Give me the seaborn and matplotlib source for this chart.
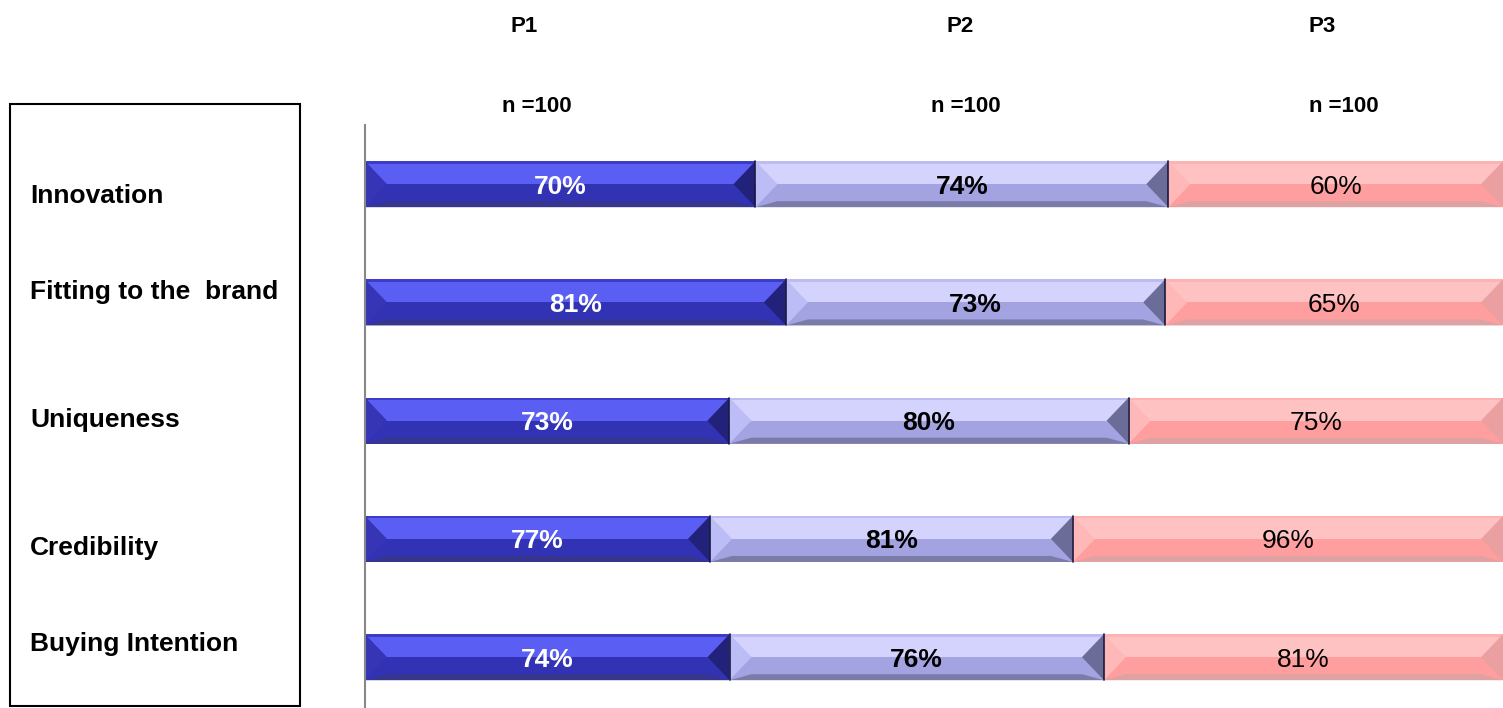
import numpy as np
import pandas as pd
import seaborn as sns
import matplotlib.pyplot as plt
from matplotlib.patches import Rectangle

categories = ["Innovation", "Fitting to the  brand", "Uniqueness", "Credibility", "Buying Intention"]
p1 = [70, 81, 73, 77, 74]
p2 = [74, 73, 80, 81, 76]
p3 = [60, 65, 75, 96, 81]
series_names = ["P1", "P2", "P3"]
sample_sizes = ["n =100", "n =100", "n =100"]

# colours per series: base, highlight, top edge, bottom edge, left facet, right facet
styles = {
    "P1": ("#3232b4", "#5b5ef2", "#3c3cc8", "#36368f", "#3535b5", "#22227a"),
    "P2": ("#a3a3e2", "#d3d3fd", "#bcbcf2", "#7b7ba8", "#bcbcf6", "#6c6c98"),
    "P3": ("#ff9e9e", "#ffc2c2", "#ffb2b2", "#dea2a2", "#ffb8b8", "#eaa0a0"),
}
text_styles = {"P1": ("white", "bold"), "P2": ("black", "bold"), "P3": ("black", "normal")}

sns.set_theme(style="white")
plt.rcParams["font.family"] = ["Liberation Sans", "DejaVu Sans"]
plt.rcParams["text.color"] = "black"

df = pd.DataFrame({"category": categories, "P1": p1, "P2": p2, "P3": p3})
total = df[series_names].sum(axis=1)
share = df[series_names].div(total, axis=0) * 100
cum = share.cumsum(axis=1)

fig = plt.figure(figsize=(15.03, 7.08), dpi=100)
ax = fig.add_axes([365 / 1503, 0, 1138 / 1503, 583 / 708])

bar_h = 0.39
# stacked bars: draw cumulative totals from the widest down
for name in reversed(series_names):
    sns.barplot(x=cum[name], y=df["category"], orient="h", color=styles[name][0],
                saturation=1, width=bar_h, ax=ax, errorbar=None, linewidth=0)

# bevel decoration on each segment
px_x = 100 / 1138
px_y = 1 / 118.25
w = 22 * px_x
hh = bar_h / 2
for i in range(len(categories)):
    left = 0
    for name in series_names:
        right = cum.loc[i, name]
        base, light, top_c, bot_c, l_c, r_c = styles[name]
        yc = i
        ax.add_patch(Rectangle((left, yc - hh + 2 * px_y), right - left, hh - 2 * px_y,
                               color=light, lw=0))
        ax.add_patch(Rectangle((left, yc - hh), right - left, 2.5 * px_y, color=top_c, lw=0))
        ax.fill([left, right, right - w, left + w],
                [yc + hh, yc + hh, yc + hh - 6 * px_y, yc + hh - 6 * px_y], color=bot_c, lw=0)
        ax.fill([left, left + w, left], [yc - hh, yc, yc + hh], color=l_c, lw=0)
        ax.fill([right, right - w, right], [yc - hh, yc, yc + hh], color=r_c, lw=0)
        if name != "P3":
            ax.plot([right, right], [yc - hh, yc + hh], color="#1a1a40", lw=1.2)
        tc, tw = text_styles[name]
        ax.text((left + right) / 2, yc + 2.5 * px_y, f"{df.loc[i, name]}%", ha="center",
                va="center", fontsize=19, color=tc, fontweight=tw)
        left = right

ax.set_xlim(0, 100)
ax.set_ylim(4.43, -0.5)
ax.set_xticks([])
ax.set_yticks([])
ax.set_xlabel("")
ax.set_ylabel("")
for s in ["top", "right", "bottom"]:
    ax.spines[s].set_visible(False)
ax.spines["left"].set_color("#888888")
ax.spines["left"].set_linewidth(1.5)

# header texts
header_x = [524, 960, 1322]
n_x = [537, 966, 1344]
for name, hx, nx, n in zip(series_names, header_x, n_x, sample_sizes):
    fig.text(hx / 1503, 1 - 26 / 708, name, ha="center", va="center", fontsize=16,
             fontweight="bold", color="black")
    fig.text(nx / 1503, 1 - 106 / 708, n, ha="center", va="center", fontsize=16,
             fontweight="bold", color="black")

# category label box
fig.patches.append(Rectangle((10 / 1503, 1 - 706 / 708), 290 / 1503, 602 / 708,
                             transform=fig.transFigure, fill=False, ec="black", lw=1.5))
label_y = [196, 292, 420, 548, 644]
for cat, ly in zip(categories, label_y):
    fig.text(30 / 1503, 1 - ly / 708, cat, ha="left", va="center", fontsize=19,
             fontweight="bold", color="black")

plt.savefig("out.png", dpi=100)
